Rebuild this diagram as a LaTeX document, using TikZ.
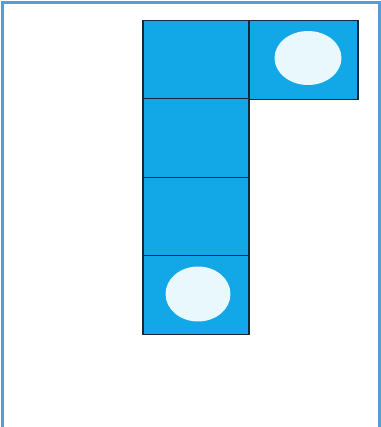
\documentclass[tikz,border=0pt]{standalone}
\usepackage{tikz}
\usetikzlibrary{positioning,shapes.geometric}
\definecolor{cellblue}{HTML}{12A7E6}
\definecolor{holefill}{HTML}{E8F8FD}
\definecolor{edge}{HTML}{14283A}
\definecolor{frame}{HTML}{5B9BD5}

\begin{document}
\begin{tikzpicture}[
  x=0.02cm,y=-0.02cm,
  cell/.style={draw=edge,line width=0.7pt,fill=cellblue,minimum height=1.57cm,inner sep=0pt},
  hole/.style={ellipse,fill=holefill,inner sep=0pt}
]
  \useasboundingbox (0,0) rectangle (381,427);
  % frame (bottom edge runs off the picture)
  \draw[frame,line width=1.3pt] (2.5,440) |- (379.5,2.5) -- (379.5,440);
  % the column of four cells
  \node[cell,minimum width=2.12cm] (c1) at (196,60)  {};
  \node[cell,minimum width=2.12cm] (c2) at (196,138) {};
  \node[cell,minimum width=2.12cm] (c3) at (196,217) {};
  \node[cell,minimum width=2.12cm] (c4) at (196,295) {};
  % cell to the right of the top one
  \node[cell,minimum width=2.18cm] (c5) at (303.5,60) {};
  % round marks
  \node[hole,minimum width=1.34cm,minimum height=1.08cm] (h1) at (308,58)  {};
  \node[hole,minimum width=1.30cm,minimum height=1.10cm] (h2) at (198,294) {};
\end{tikzpicture}
\end{document}
